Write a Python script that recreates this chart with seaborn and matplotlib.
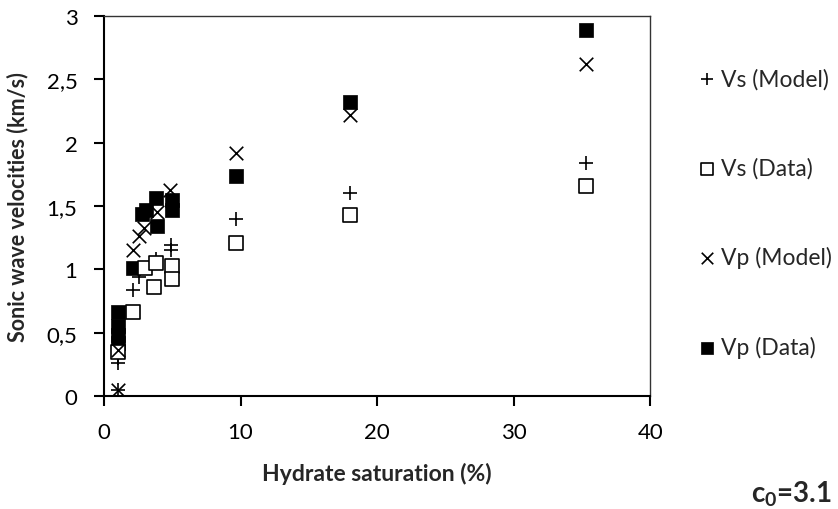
import numpy as np
import pandas as pd
import seaborn as sns
import matplotlib.pyplot as plt
from matplotlib.ticker import FuncFormatter

sns.set_style('ticks')
plt.rcParams['font.family'] = ['Lato', 'DejaVu Sans']
plt.rcParams['mathtext.fontset'] = 'custom'
plt.rcParams['mathtext.bf'] = 'Lato:bold'
plt.rcParams['mathtext.rm'] = 'Lato'

# hydrate saturation (%) vs sonic velocities (km/s)
vs_model_x = [1.0, 1.0, 1.0, 2.1, 2.6, 3.8, 4.9, 4.9, 9.7, 18.0, 35.3]
vs_model_y = [0.05, 0.30, 0.26, 0.84, 0.94, 1.08, 1.19, 1.15, 1.40, 1.60, 1.84]
vs_data_x = [1.0, 2.1, 3.0, 3.8, 3.7, 4.95, 4.95, 9.7, 18.0, 35.3]
vs_data_y = [0.35, 0.66, 1.01, 1.05, 0.86, 1.03, 0.92, 1.21, 1.43, 1.66]
vp_model_x = [1.0, 1.0, 2.1, 2.6, 2.9, 3.85, 4.85, 9.7, 18.0, 35.3]
vp_model_y = [0.05, 0.36, 1.15, 1.26, 1.33, 1.45, 1.63, 1.92, 2.22, 2.62]
vp_data_x = [1.0, 1.0, 1.0, 1.0, 2.1, 2.8, 3.1, 3.8, 3.9, 4.95, 4.95, 9.7, 18.0, 35.3]
vp_data_y = [0.66, 0.55, 0.48, 0.42, 1.01, 1.44, 1.47, 1.56, 1.34, 1.55, 1.47, 1.74, 2.32, 2.89]

fig = plt.figure(figsize=(8.38, 5.10), dpi=100)
ax = fig.add_axes([0.124, 0.2216, 0.652, 0.745])

sns.scatterplot(x=vp_data_x, y=vp_data_y, marker='s', s=110, color='black',
                edgecolor='black', linewidth=0.5, ax=ax, label='Vp (Data)', zorder=2)
sns.scatterplot(x=vs_model_x, y=vs_model_y, marker='+', s=110, color='black',
                linewidth=1.2, ax=ax, label='Vs (Model)', zorder=3)
sns.scatterplot(x=vs_data_x, y=vs_data_y, marker='s', s=95, color='black',
                facecolor='white', edgecolor='black', linewidth=1.2, ax=ax,
                label='Vs (Data)', zorder=3)
sns.scatterplot(x=vp_model_x, y=vp_model_y, marker='x', s=95, color='black',
                linewidth=1.2, ax=ax, label='Vp (Model)', zorder=4)

ax.set_xlim(0, 40)
ax.set_ylim(0, 3)
ax.set_xticks(np.arange(0, 41, 10))
ax.set_yticks(np.arange(0, 3.01, 0.5))
ax.yaxis.set_major_formatter(FuncFormatter(lambda v, p: ('%g' % v).replace('.', ',')))
ax.tick_params(direction='out', length=7, width=1.5, pad=12, labelsize=16, colors='black')
for side in ['left', 'bottom']:
    ax.spines[side].set_linewidth(1.5)
    ax.spines[side].set_color('black')
for side in ['top', 'right']:
    ax.spines[side].set_visible(True)
    ax.spines[side].set_linewidth(1.0)
    ax.spines[side].set_color('#333333')

ax.set_xlabel('Hydrate saturation (%)', fontsize=16.5, fontweight='bold', labelpad=14)
ax.set_ylabel('Sonic wave velocities (km/s)', fontsize=15.5, fontweight='bold', labelpad=13)

handles, labels = ax.get_legend_handles_labels()
order = ['Vs (Model)', 'Vs (Data)', 'Vp (Model)', 'Vp (Data)']
hmap = dict(zip(labels, handles))
ax.get_legend().remove()
fig.legend([hmap[k] for k in order], order, loc='center left',
           bbox_to_anchor=(684 / 838, 1 - 214 / 510), frameon=False,
           fontsize=16.5, labelspacing=2.95, handletextpad=0.1,
           handlelength=1.0, borderpad=0, markerscale=0.85)

fig.text(751 / 838, 1 - 502 / 510, r'c$_\mathbf{0}$=3.1', fontsize=20,
         fontweight='bold', va='baseline')

fig.savefig('out.png', dpi=100)
